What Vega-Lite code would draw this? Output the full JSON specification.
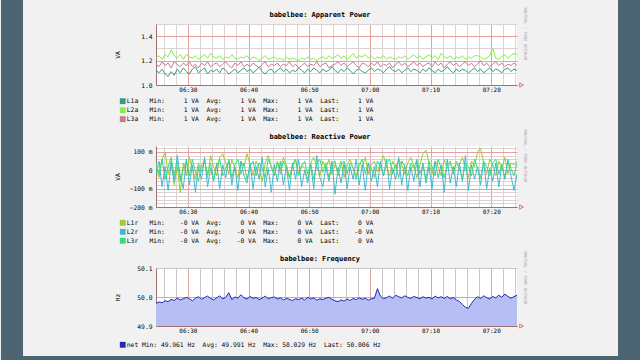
{
"$schema": "https://vega.github.io/schema/vega-lite/v6.json",
"background": "#f1f1f1",
"padding": 0,
"data": {"format": {"parse": {"t": "date:'%H:%M:%S'"}}, "values": [
{"t":"06:24:45","L1a":1.12,"L2a":1.22,"L3a":1.17,"L1r":0.03,"L2r":-0.02,"L3r":0.04,"net":49.978},
{"t":"06:25:15","L1a":1.10,"L2a":1.24,"L3a":1.15,"L1r":-0.04,"L2r":0.05,"L3r":-0.02,"net":49.983},
{"t":"06:25:45","L1a":1.13,"L2a":1.21,"L3a":1.19,"L1r":0.06,"L2r":-0.09,"L3r":0.06,"net":49.980},
{"t":"06:26:15","L1a":1.09,"L2a":1.25,"L3a":1.16,"L1r":0.10,"L2r":0.02,"L3r":-0.05,"net":49.987},
{"t":"06:26:45","L1a":1.07,"L2a":1.23,"L3a":1.18,"L1r":-0.02,"L2r":-0.11,"L3r":0.02,"net":49.984},
{"t":"06:27:15","L1a":1.11,"L2a":1.29,"L3a":1.14,"L1r":0.05,"L2r":0.04,"L3r":0.07,"net":49.992},
{"t":"06:27:45","L1a":1.08,"L2a":1.24,"L3a":1.19,"L1r":-0.08,"L2r":-0.06,"L3r":-0.03,"net":49.988},
{"t":"06:28:15","L1a":1.13,"L2a":1.22,"L3a":1.17,"L1r":0.02,"L2r":0.08,"L3r":0.05,"net":49.996},
{"t":"06:28:45","L1a":1.10,"L2a":1.25,"L3a":1.15,"L1r":-0.12,"L2r":-0.03,"L3r":-0.06,"net":49.990},
{"t":"06:29:15","L1a":1.14,"L2a":1.21,"L3a":1.18,"L1r":0.04,"L2r":-0.10,"L3r":0.01,"net":49.994},
{"t":"06:29:45","L1a":1.11,"L2a":1.25,"L3a":1.16,"L1r":-0.03,"L2r":0.06,"L3r":0.05,"net":49.999},
{"t":"06:30:15","L1a":1.09,"L2a":1.23,"L3a":1.19,"L1r":0.07,"L2r":-0.08,"L3r":-0.03,"net":49.994},
{"t":"06:30:45","L1a":1.13,"L2a":1.22,"L3a":1.15,"L1r":0.01,"L2r":0.03,"L3r":0.06,"net":49.987},
{"t":"06:31:15","L1a":1.15,"L2a":1.24,"L3a":1.17,"L1r":-0.05,"L2r":-0.12,"L3r":-0.01,"net":49.996},
{"t":"06:31:45","L1a":1.10,"L2a":1.21,"L3a":1.14,"L1r":0.04,"L2r":0.02,"L3r":-0.06,"net":50.001},
{"t":"06:32:15","L1a":1.12,"L2a":1.23,"L3a":1.18,"L1r":-0.01,"L2r":-0.05,"L3r":0.03,"net":49.992},
{"t":"06:32:45","L1a":1.14,"L2a":1.25,"L3a":1.16,"L1r":0.06,"L2r":0.07,"L3r":0.05,"net":49.998},
{"t":"06:33:15","L1a":1.09,"L2a":1.22,"L3a":1.19,"L1r":-0.04,"L2r":-0.09,"L3r":-0.02,"net":50.003},
{"t":"06:33:45","L1a":1.12,"L2a":1.26,"L3a":1.15,"L1r":0.08,"L2r":0.01,"L3r":0.04,"net":49.995},
{"t":"06:34:15","L1a":1.11,"L2a":1.23,"L3a":1.17,"L1r":0.02,"L2r":-0.06,"L3r":-0.05,"net":49.990},
{"t":"06:34:45","L1a":1.13,"L2a":1.22,"L3a":1.18,"L1r":-0.03,"L2r":0.04,"L3r":0.02,"net":49.997},
{"t":"06:35:15","L1a":1.10,"L2a":1.24,"L3a":1.15,"L1r":0.07,"L2r":-0.10,"L3r":0.06,"net":50.004},
{"t":"06:35:45","L1a":1.14,"L2a":1.21,"L3a":1.17,"L1r":0.09,"L2r":0.03,"L3r":-0.03,"net":49.993},
{"t":"06:36:15","L1a":1.12,"L2a":1.23,"L3a":1.19,"L1r":0.04,"L2r":-0.04,"L3r":0.01,"net":49.999},
{"t":"06:36:45","L1a":1.09,"L2a":1.22,"L3a":1.16,"L1r":-0.02,"L2r":0.06,"L3r":0.05,"net":50.015},
{"t":"06:37:15","L1a":1.11,"L2a":1.25,"L3a":1.14,"L1r":0.06,"L2r":-0.08,"L3r":-0.04,"net":49.991},
{"t":"06:37:45","L1a":1.13,"L2a":1.22,"L3a":1.18,"L1r":0.01,"L2r":0.02,"L3r":0.03,"net":50.000},
{"t":"06:38:15","L1a":1.10,"L2a":1.21,"L3a":1.16,"L1r":-0.04,"L2r":-0.11,"L3r":0.06,"net":49.996},
{"t":"06:38:45","L1a":1.12,"L2a":1.23,"L3a":1.19,"L1r":0.05,"L2r":0.05,"L3r":-0.02,"net":50.008},
{"t":"06:39:15","L1a":1.14,"L2a":1.22,"L3a":1.15,"L1r":0.02,"L2r":-0.03,"L3r":0.04,"net":49.997},
{"t":"06:39:45","L1a":1.11,"L2a":1.24,"L3a":1.17,"L1r":0.09,"L2r":-0.07,"L3r":-0.05,"net":49.993},
{"t":"06:40:15","L1a":1.13,"L2a":1.21,"L3a":1.15,"L1r":0.03,"L2r":0.04,"L3r":0.02,"net":50.002},
{"t":"06:40:45","L1a":1.10,"L2a":1.23,"L3a":1.18,"L1r":-0.03,"L2r":-0.10,"L3r":0.05,"net":49.995},
{"t":"06:41:15","L1a":1.12,"L2a":1.22,"L3a":1.16,"L1r":0.05,"L2r":0.02,"L3r":-0.03,"net":49.999},
{"t":"06:41:45","L1a":1.15,"L2a":1.20,"L3a":1.14,"L1r":0.01,"L2r":-0.05,"L3r":0.04,"net":49.991},
{"t":"06:42:15","L1a":1.11,"L2a":1.22,"L3a":1.17,"L1r":-0.06,"L2r":0.07,"L3r":0.01,"net":49.996},
{"t":"06:42:45","L1a":1.09,"L2a":1.24,"L3a":1.19,"L1r":0.04,"L2r":-0.09,"L3r":-0.04,"net":50.003},
{"t":"06:43:15","L1a":1.12,"L2a":1.21,"L3a":1.15,"L1r":0.08,"L2r":0.01,"L3r":0.06,"net":49.994},
{"t":"06:43:45","L1a":1.13,"L2a":1.22,"L3a":1.17,"L1r":0.02,"L2r":-0.12,"L3r":0.02,"net":49.998},
{"t":"06:44:15","L1a":1.10,"L2a":1.23,"L3a":1.16,"L1r":-0.03,"L2r":0.03,"L3r":-0.03,"net":50.000},
{"t":"06:44:45","L1a":1.12,"L2a":1.21,"L3a":1.18,"L1r":0.05,"L2r":-0.06,"L3r":0.04,"net":49.993},
{"t":"06:45:15","L1a":1.14,"L2a":1.22,"L3a":1.15,"L1r":0.00,"L2r":0.05,"L3r":-0.02,"net":49.997},
{"t":"06:45:45","L1a":1.11,"L2a":1.20,"L3a":1.17,"L1r":0.07,"L2r":-0.08,"L3r":0.05,"net":49.990},
{"t":"06:46:15","L1a":1.13,"L2a":1.23,"L3a":1.16,"L1r":0.03,"L2r":0.02,"L3r":0.01,"net":49.995},
{"t":"06:46:45","L1a":1.10,"L2a":1.21,"L3a":1.19,"L1r":-0.04,"L2r":-0.11,"L3r":-0.04,"net":49.992},
{"t":"06:47:15","L1a":1.12,"L2a":1.22,"L3a":1.15,"L1r":0.02,"L2r":0.04,"L3r":0.03,"net":49.988},
{"t":"06:47:45","L1a":1.11,"L2a":1.21,"L3a":1.17,"L1r":0.06,"L2r":-0.05,"L3r":0.06,"net":49.994},
{"t":"06:48:15","L1a":1.14,"L2a":1.20,"L3a":1.14,"L1r":-0.02,"L2r":0.06,"L3r":-0.03,"net":49.991},
{"t":"06:48:45","L1a":1.12,"L2a":1.22,"L3a":1.16,"L1r":0.03,"L2r":-0.09,"L3r":0.02,"net":49.996},
{"t":"06:49:15","L1a":1.10,"L2a":1.21,"L3a":1.18,"L1r":0.01,"L2r":0.00,"L3r":0.05,"net":49.990},
{"t":"06:49:45","L1a":1.13,"L2a":1.23,"L3a":1.15,"L1r":-0.05,"L2r":-0.07,"L3r":-0.02,"net":49.999},
{"t":"06:50:15","L1a":1.11,"L2a":1.21,"L3a":1.17,"L1r":0.04,"L2r":0.03,"L3r":0.04,"net":49.993},
{"t":"06:50:45","L1a":1.14,"L2a":1.22,"L3a":1.16,"L1r":0.07,"L2r":-0.10,"L3r":-0.05,"net":49.997},
{"t":"06:51:15","L1a":1.12,"L2a":1.20,"L3a":1.19,"L1r":0.02,"L2r":0.08,"L3r":0.03,"net":49.989},
{"t":"06:51:45","L1a":1.10,"L2a":1.22,"L3a":1.15,"L1r":-0.03,"L2r":-0.04,"L3r":0.06,"net":49.994},
{"t":"06:52:15","L1a":1.13,"L2a":1.23,"L3a":1.17,"L1r":0.05,"L2r":-0.09,"L3r":-0.01,"net":49.991},
{"t":"06:52:45","L1a":1.11,"L2a":1.21,"L3a":1.18,"L1r":0.01,"L2r":0.02,"L3r":0.04,"net":49.996},
{"t":"06:53:15","L1a":1.12,"L2a":1.24,"L3a":1.14,"L1r":0.06,"L2r":-0.06,"L3r":-0.04,"net":49.999},
{"t":"06:53:45","L1a":1.15,"L2a":1.22,"L3a":1.16,"L1r":-0.02,"L2r":0.05,"L3r":0.02,"net":49.992},
{"t":"06:54:15","L1a":1.12,"L2a":1.23,"L3a":1.17,"L1r":0.03,"L2r":-0.13,"L3r":0.05,"net":49.987},
{"t":"06:54:45","L1a":1.10,"L2a":1.25,"L3a":1.19,"L1r":0.00,"L2r":0.01,"L3r":-0.03,"net":49.984},
{"t":"06:55:15","L1a":1.13,"L2a":1.22,"L3a":1.16,"L1r":0.05,"L2r":-0.07,"L3r":0.03,"net":49.990},
{"t":"06:55:45","L1a":1.11,"L2a":1.24,"L3a":1.18,"L1r":-0.04,"L2r":0.04,"L3r":0.05,"net":49.986},
{"t":"06:56:15","L1a":1.14,"L2a":1.21,"L3a":1.15,"L1r":0.03,"L2r":-0.10,"L3r":-0.02,"net":49.993},
{"t":"06:56:45","L1a":1.12,"L2a":1.23,"L3a":1.17,"L1r":0.06,"L2r":0.02,"L3r":0.04,"net":49.988},
{"t":"06:57:15","L1a":1.09,"L2a":1.26,"L3a":1.19,"L1r":0.01,"L2r":-0.05,"L3r":0.01,"net":49.995},
{"t":"06:57:45","L1a":1.12,"L2a":1.22,"L3a":1.16,"L1r":-0.03,"L2r":0.06,"L3r":-0.05,"net":49.991},
{"t":"06:58:15","L1a":1.13,"L2a":1.24,"L3a":1.14,"L1r":0.04,"L2r":-0.08,"L3r":0.03,"net":49.997},
{"t":"06:58:45","L1a":1.11,"L2a":1.23,"L3a":1.18,"L1r":0.02,"L2r":0.03,"L3r":0.06,"net":49.992},
{"t":"06:59:15","L1a":1.10,"L2a":1.25,"L3a":1.17,"L1r":0.07,"L2r":-0.11,"L3r":-0.02,"net":49.996},
{"t":"06:59:45","L1a":1.12,"L2a":1.22,"L3a":1.15,"L1r":-0.02,"L2r":0.04,"L3r":0.04,"net":49.989},
{"t":"07:00:15","L1a":1.14,"L2a":1.24,"L3a":1.18,"L1r":0.03,"L2r":-0.06,"L3r":0.01,"net":49.994},
{"t":"07:00:45","L1a":1.11,"L2a":1.21,"L3a":1.16,"L1r":0.05,"L2r":0.02,"L3r":-0.04,"net":49.996},
{"t":"07:01:15","L1a":1.13,"L2a":1.23,"L3a":1.19,"L1r":-0.01,"L2r":-0.09,"L3r":0.05,"net":50.029},
{"t":"07:01:45","L1a":1.12,"L2a":1.22,"L3a":1.15,"L1r":0.04,"L2r":0.05,"L3r":0.02,"net":50.002},
{"t":"07:02:15","L1a":1.10,"L2a":1.24,"L3a":1.17,"L1r":0.08,"L2r":-0.03,"L3r":-0.03,"net":49.994},
{"t":"07:02:45","L1a":1.13,"L2a":1.21,"L3a":1.16,"L1r":0.02,"L2r":0.06,"L3r":0.04,"net":49.998},
{"t":"07:03:15","L1a":1.15,"L2a":1.23,"L3a":1.18,"L1r":-0.03,"L2r":-0.10,"L3r":0.06,"net":50.003},
{"t":"07:03:45","L1a":1.12,"L2a":1.22,"L3a":1.14,"L1r":0.05,"L2r":0.01,"L3r":-0.02,"net":49.996},
{"t":"07:04:15","L1a":1.11,"L2a":1.21,"L3a":1.17,"L1r":0.01,"L2r":-0.05,"L3r":0.03,"net":50.006},
{"t":"07:04:45","L1a":1.13,"L2a":1.23,"L3a":1.19,"L1r":0.06,"L2r":0.07,"L3r":-0.04,"net":50.001},
{"t":"07:05:15","L1a":1.10,"L2a":1.22,"L3a":1.16,"L1r":0.03,"L2r":-0.08,"L3r":0.05,"net":49.997},
{"t":"07:05:45","L1a":1.12,"L2a":1.24,"L3a":1.18,"L1r":-0.02,"L2r":0.03,"L3r":0.02,"net":50.004},
{"t":"07:06:15","L1a":1.14,"L2a":1.21,"L3a":1.15,"L1r":0.04,"L2r":-0.11,"L3r":-0.03,"net":49.999},
{"t":"07:06:45","L1a":1.11,"L2a":1.23,"L3a":1.17,"L1r":0.07,"L2r":0.02,"L3r":0.04,"net":49.995},
{"t":"07:07:15","L1a":1.13,"L2a":1.25,"L3a":1.19,"L1r":0.02,"L2r":-0.06,"L3r":0.01,"net":50.002},
{"t":"07:07:45","L1a":1.12,"L2a":1.22,"L3a":1.16,"L1r":-0.04,"L2r":0.05,"L3r":0.06,"net":49.998},
{"t":"07:08:15","L1a":1.10,"L2a":1.24,"L3a":1.18,"L1r":0.03,"L2r":-0.09,"L3r":-0.02,"net":49.994},
{"t":"07:08:45","L1a":1.13,"L2a":1.21,"L3a":1.15,"L1r":0.09,"L2r":0.04,"L3r":0.03,"net":50.001},
{"t":"07:09:15","L1a":1.11,"L2a":1.23,"L3a":1.17,"L1r":0.11,"L2r":-0.07,"L3r":-0.05,"net":49.996},
{"t":"07:09:45","L1a":1.14,"L2a":1.25,"L3a":1.18,"L1r":0.04,"L2r":0.02,"L3r":0.05,"net":49.999},
{"t":"07:10:15","L1a":1.12,"L2a":1.22,"L3a":1.15,"L1r":-0.02,"L2r":-0.10,"L3r":0.02,"net":49.993},
{"t":"07:10:45","L1a":1.10,"L2a":1.24,"L3a":1.19,"L1r":0.05,"L2r":0.05,"L3r":-0.03,"net":50.003},
{"t":"07:11:15","L1a":1.13,"L2a":1.21,"L3a":1.16,"L1r":0.02,"L2r":-0.04,"L3r":0.06,"net":49.997},
{"t":"07:11:45","L1a":1.11,"L2a":1.26,"L3a":1.18,"L1r":-0.03,"L2r":0.03,"L3r":0.01,"net":50.001},
{"t":"07:12:15","L1a":1.12,"L2a":1.23,"L3a":1.14,"L1r":0.06,"L2r":-0.12,"L3r":-0.04,"net":49.995},
{"t":"07:12:45","L1a":1.15,"L2a":1.22,"L3a":1.17,"L1r":0.01,"L2r":0.06,"L3r":0.03,"net":50.002},
{"t":"07:13:15","L1a":1.12,"L2a":1.24,"L3a":1.19,"L1r":0.04,"L2r":-0.07,"L3r":0.05,"net":49.994},
{"t":"07:13:45","L1a":1.10,"L2a":1.21,"L3a":1.16,"L1r":-0.01,"L2r":0.02,"L3r":-0.02,"net":49.998},
{"t":"07:14:15","L1a":1.13,"L2a":1.23,"L3a":1.18,"L1r":0.05,"L2r":-0.09,"L3r":0.04,"net":49.990},
{"t":"07:14:45","L1a":1.11,"L2a":1.22,"L3a":1.15,"L1r":0.03,"L2r":0.04,"L3r":0.01,"net":49.985},
{"t":"07:15:15","L1a":1.13,"L2a":1.24,"L3a":1.17,"L1r":0.07,"L2r":-0.06,"L3r":-0.05,"net":49.974},
{"t":"07:15:45","L1a":1.12,"L2a":1.21,"L3a":1.19,"L1r":0.01,"L2r":0.08,"L3r":0.04,"net":49.965},
{"t":"07:16:15","L1a":1.10,"L2a":1.23,"L3a":1.16,"L1r":-0.04,"L2r":-0.11,"L3r":0.02,"net":49.961},
{"t":"07:16:45","L1a":1.12,"L2a":1.22,"L3a":1.18,"L1r":0.05,"L2r":0.03,"L3r":-0.03,"net":49.978},
{"t":"07:17:15","L1a":1.14,"L2a":1.24,"L3a":1.15,"L1r":0.02,"L2r":-0.05,"L3r":0.06,"net":49.992},
{"t":"07:17:45","L1a":1.11,"L2a":1.24,"L3a":1.17,"L1r":0.10,"L2r":0.02,"L3r":0.01,"net":50.001},
{"t":"07:18:15","L1a":1.13,"L2a":1.23,"L3a":1.20,"L1r":0.12,"L2r":-0.08,"L3r":-0.04,"net":49.995},
{"t":"07:18:45","L1a":1.10,"L2a":1.21,"L3a":1.16,"L1r":0.04,"L2r":0.05,"L3r":0.05,"net":50.004},
{"t":"07:19:15","L1a":1.12,"L2a":1.22,"L3a":1.18,"L1r":-0.02,"L2r":-0.10,"L3r":0.02,"net":49.998},
{"t":"07:19:45","L1a":1.14,"L2a":1.24,"L3a":1.15,"L1r":0.06,"L2r":0.01,"L3r":-0.03,"net":49.993},
{"t":"07:20:15","L1a":1.11,"L2a":1.30,"L3a":1.17,"L1r":0.03,"L2r":-0.06,"L3r":0.04,"net":50.002},
{"t":"07:20:45","L1a":1.13,"L2a":1.22,"L3a":1.19,"L1r":-0.03,"L2r":0.04,"L3r":0.06,"net":49.997},
{"t":"07:21:15","L1a":1.12,"L2a":1.21,"L3a":1.16,"L1r":0.05,"L2r":-0.09,"L3r":-0.02,"net":50.006},
{"t":"07:21:45","L1a":1.10,"L2a":1.23,"L3a":1.18,"L1r":0.01,"L2r":0.03,"L3r":0.03,"net":49.999},
{"t":"07:22:15","L1a":1.13,"L2a":1.25,"L3a":1.15,"L1r":0.07,"L2r":-0.05,"L3r":-0.04,"net":50.010},
{"t":"07:22:45","L1a":1.14,"L2a":1.22,"L3a":1.17,"L1r":-0.02,"L2r":0.06,"L3r":0.05,"net":50.002},
{"t":"07:23:15","L1a":1.11,"L2a":1.24,"L3a":1.16,"L1r":0.04,"L2r":-0.03,"L3r":0.01,"net":49.996},
{"t":"07:23:45","L1a":1.13,"L2a":1.26,"L3a":1.18,"L1r":0.03,"L2r":-0.11,"L3r":-0.03,"net":50.001},
{"t":"07:24:15","L1a":1.12,"L2a":1.25,"L3a":1.16,"L1r":0.05,"L2r":-0.02,"L3r":0.04,"net":50.006}
]},
"spacing": 61,
"bounds": "flush",
"resolve": {"scale": {"x": "independent", "y": "independent", "color": "independent"}, "legend": {"color": "independent"}},
"vconcat": [
{
 "width": 361, "height": 61,
 "resolve": {"axis": {"x": "independent", "y": "independent"}},
 "layer": [
  {
   "data": {"values": [{}]},
   "mark": {"type": "rect", "color": "#4d6473", "clip": false},
   "encoding": {
    "x": {"datum": {"year":1900,"month":1,"date":1,"hours":5,"minutes":59,"seconds":12}, "type": "temporal", "axis": null,
     "scale": {"domain": [{"year":1900,"month":1,"date":1,"hours":6,"minutes":24,"seconds":45},{"year":1900,"month":1,"date":1,"hours":7,"minutes":24,"seconds":15}], "nice": false}},
    "x2": {"datum": {"year":1900,"month":1,"date":1,"hours":6,"minutes":2,"seconds":50}},
    "y": {"datum": 1.69672, "type": "quantitative", "axis": null, "scale": {"domain": [1.0, 1.5], "nice": false, "zero": false}},
    "y2": {"datum": -1.2541}
   }
  },
  {
   "data": {"values": [{}]},
   "mark": {"type": "rect", "color": "#4d6473", "clip": false},
   "encoding": {
    "x": {"datum": {"year":1900,"month":1,"date":1,"hours":7,"minutes":40,"seconds":54}, "type": "temporal", "axis": null,
     "scale": {"domain": [{"year":1900,"month":1,"date":1,"hours":6,"minutes":24,"seconds":45},{"year":1900,"month":1,"date":1,"hours":7,"minutes":24,"seconds":15}], "nice": false}},
    "x2": {"datum": {"year":1900,"month":1,"date":1,"hours":7,"minutes":44,"seconds":41}},
    "y": {"datum": 1.69672, "type": "quantitative", "axis": null, "scale": {"domain": [1.0, 1.5], "nice": false, "zero": false}},
    "y2": {"datum": -1.2541}
   }
  },
  {
   "data": {"values": [{}]},
   "mark": {"type": "rect", "color": "#4d6473", "clip": false},
   "encoding": {
    "x": {"datum": {"year":1900,"month":1,"date":1,"hours":5,"minutes":59,"seconds":12}, "type": "temporal", "axis": null,
     "scale": {"domain": [{"year":1900,"month":1,"date":1,"hours":6,"minutes":24,"seconds":45},{"year":1900,"month":1,"date":1,"hours":7,"minutes":24,"seconds":15}], "nice": false}},
    "x2": {"datum": {"year":1900,"month":1,"date":1,"hours":7,"minutes":44,"seconds":41}},
    "y": {"datum": -1.2213, "type": "quantitative", "axis": null, "scale": {"domain": [1.0, 1.5], "nice": false, "zero": false}},
    "y2": {"datum": -1.2541}
   }
  },
  {
   "transform": [{"fold": ["L1a", "L2a", "L3a"], "as": ["series", "value"]}],
   "mark": {"type": "line", "strokeWidth": 1, "clip": true},
   "encoding": {
    "x": {"field": "t", "type": "temporal",
     "scale": {"domain": [{"year":1900,"month":1,"date":1,"hours":6,"minutes":24,"seconds":45},{"year":1900,"month":1,"date":1,"hours":7,"minutes":24,"seconds":15}], "nice": false},
     "axis": {"orient": "bottom", "title": null,
      "values": [{"year":1900,"month":1,"date":1,"hours":6,"minutes":26},{"year":1900,"month":1,"date":1,"hours":6,"minutes":28},{"year":1900,"month":1,"date":1,"hours":6,"minutes":30},{"year":1900,"month":1,"date":1,"hours":6,"minutes":32},{"year":1900,"month":1,"date":1,"hours":6,"minutes":34},{"year":1900,"month":1,"date":1,"hours":6,"minutes":36},{"year":1900,"month":1,"date":1,"hours":6,"minutes":38},{"year":1900,"month":1,"date":1,"hours":6,"minutes":40},{"year":1900,"month":1,"date":1,"hours":6,"minutes":42},{"year":1900,"month":1,"date":1,"hours":6,"minutes":44},{"year":1900,"month":1,"date":1,"hours":6,"minutes":46},{"year":1900,"month":1,"date":1,"hours":6,"minutes":48},{"year":1900,"month":1,"date":1,"hours":6,"minutes":50},{"year":1900,"month":1,"date":1,"hours":6,"minutes":52},{"year":1900,"month":1,"date":1,"hours":6,"minutes":54},{"year":1900,"month":1,"date":1,"hours":6,"minutes":56},{"year":1900,"month":1,"date":1,"hours":6,"minutes":58},{"year":1900,"month":1,"date":1,"hours":7,"minutes":0},{"year":1900,"month":1,"date":1,"hours":7,"minutes":2},{"year":1900,"month":1,"date":1,"hours":7,"minutes":4},{"year":1900,"month":1,"date":1,"hours":7,"minutes":6},{"year":1900,"month":1,"date":1,"hours":7,"minutes":8},{"year":1900,"month":1,"date":1,"hours":7,"minutes":10},{"year":1900,"month":1,"date":1,"hours":7,"minutes":12},{"year":1900,"month":1,"date":1,"hours":7,"minutes":14},{"year":1900,"month":1,"date":1,"hours":7,"minutes":16},{"year":1900,"month":1,"date":1,"hours":7,"minutes":18},{"year":1900,"month":1,"date":1,"hours":7,"minutes":20},{"year":1900,"month":1,"date":1,"hours":7,"minutes":22},{"year":1900,"month":1,"date":1,"hours":7,"minutes":24}],
      "labelExpr": "minutes(datum.value) % 10 == 0 ? timeFormat(datum.value, '%H:%M') : ''",
      "labelPadding": 1, "grid": true,
      "gridColor": {"condition": {"test": "minutes(datum.value) % 10 == 0", "value": "#e6a0a0"}, "value": "#ddd2d2"}}},
    "y": {"field": "value", "type": "quantitative",
     "scale": {"domain": [1.0, 1.5], "nice": false, "zero": false},
     "axis": {"orient": "left", "values": [1.0, 1.1, 1.2, 1.3, 1.4, 1.5],
      "labelExpr": "round(datum.value*10) % 2 == 0 ? format(datum.value, '.1f') : ''",
      "labelFontSize": 6.3, "labelPadding": 4, "grid": true,
      "gridColor": {"condition": {"test": "round(datum.value*10) % 2 == 0", "value": "#e6a0a0"}, "value": "#ddd2d2"},
      "title": "VA", "titleX": -38.3, "titleY": 30.5, "titleAngle": -90, "titleAlign": "center", "titleBaseline": "middle"}},
    "color": {"field": "series", "type": "nominal",
     "scale": {"domain": ["L1a", "L2a", "L3a"], "range": ["#3a9a88", "#88ee44", "#c87b8a"]},
     "legend": {"title": null, "legendX": -36.5, "legendY": 74,
      "labelExpr": "datum.label + '\u00a0\u00a0\u00a0Min:\u00a0\u00a0\u00a0\u00a0\u00a01\u00a0VA\u00a0\u00a0Avg:\u00a0\u00a0\u00a0\u00a0\u00a01\u00a0VA\u00a0\u00a0Max:\u00a0\u00a0\u00a0\u00a0\u00a01\u00a0VA\u00a0\u00a0Last:\u00a0\u00a0\u00a0\u00a0\u00a01\u00a0VA'"}}
   }
  },
  {
   "data": {"values": [{}]},
   "mark": {"type": "point", "shape": "triangle-right", "filled": false, "color": "#e04040", "size": 18, "strokeWidth": 1, "clip": false},
   "encoding": {
    "x": {"datum": {"year":1900,"month":1,"date":1,"hours":7,"minutes":25,"seconds":0}, "type": "temporal",
     "scale": {"domain": [{"year":1900,"month":1,"date":1,"hours":6,"minutes":24,"seconds":45},{"year":1900,"month":1,"date":1,"hours":7,"minutes":24,"seconds":15}], "nice": false},
     "axis": {"orient": "top", "labels": false, "domain": false, "grid": false, "ticks": false,
      "title": "babelbee: Apparent Power", "titleFontSize": 7, "titleFontWeight": "bold",
      "titleX": 163.5, "titleY": -10, "titleAlign": "center", "titleBaseline": "middle", "titleAngle": 0}},
    "y": {"datum": 1.0, "type": "quantitative",
     "scale": {"domain": [1.0, 1.5], "nice": false, "zero": false},
     "axis": {"orient": "right", "labels": false, "domain": false, "grid": false, "ticks": false,
      "title": "RRDTOOL / TOBI OETIKER", "titleFontSize": 4, "titleColor": "#a8a8a8",
      "titleX": 7, "titleY": 9.5, "titleAngle": 90, "titleAlign": "center", "titleBaseline": "middle"}}
   }
  }
 ]
},
{
 "width": 361, "height": 61,
 "resolve": {"axis": {"x": "independent", "y": "independent"}},
 "layer": [
  {
   "transform": [{"fold": ["L1r", "L2r", "L3r"], "as": ["series", "value"]}],
   "mark": {"type": "line", "strokeWidth": 1, "clip": true},
   "encoding": {
    "x": {"field": "t", "type": "temporal",
     "scale": {"domain": [{"year":1900,"month":1,"date":1,"hours":6,"minutes":24,"seconds":45},{"year":1900,"month":1,"date":1,"hours":7,"minutes":24,"seconds":15}], "nice": false},
     "axis": {"orient": "bottom", "title": null,
      "values": [{"year":1900,"month":1,"date":1,"hours":6,"minutes":26},{"year":1900,"month":1,"date":1,"hours":6,"minutes":28},{"year":1900,"month":1,"date":1,"hours":6,"minutes":30},{"year":1900,"month":1,"date":1,"hours":6,"minutes":32},{"year":1900,"month":1,"date":1,"hours":6,"minutes":34},{"year":1900,"month":1,"date":1,"hours":6,"minutes":36},{"year":1900,"month":1,"date":1,"hours":6,"minutes":38},{"year":1900,"month":1,"date":1,"hours":6,"minutes":40},{"year":1900,"month":1,"date":1,"hours":6,"minutes":42},{"year":1900,"month":1,"date":1,"hours":6,"minutes":44},{"year":1900,"month":1,"date":1,"hours":6,"minutes":46},{"year":1900,"month":1,"date":1,"hours":6,"minutes":48},{"year":1900,"month":1,"date":1,"hours":6,"minutes":50},{"year":1900,"month":1,"date":1,"hours":6,"minutes":52},{"year":1900,"month":1,"date":1,"hours":6,"minutes":54},{"year":1900,"month":1,"date":1,"hours":6,"minutes":56},{"year":1900,"month":1,"date":1,"hours":6,"minutes":58},{"year":1900,"month":1,"date":1,"hours":7,"minutes":0},{"year":1900,"month":1,"date":1,"hours":7,"minutes":2},{"year":1900,"month":1,"date":1,"hours":7,"minutes":4},{"year":1900,"month":1,"date":1,"hours":7,"minutes":6},{"year":1900,"month":1,"date":1,"hours":7,"minutes":8},{"year":1900,"month":1,"date":1,"hours":7,"minutes":10},{"year":1900,"month":1,"date":1,"hours":7,"minutes":12},{"year":1900,"month":1,"date":1,"hours":7,"minutes":14},{"year":1900,"month":1,"date":1,"hours":7,"minutes":16},{"year":1900,"month":1,"date":1,"hours":7,"minutes":18},{"year":1900,"month":1,"date":1,"hours":7,"minutes":20},{"year":1900,"month":1,"date":1,"hours":7,"minutes":22},{"year":1900,"month":1,"date":1,"hours":7,"minutes":24}],
      "labelExpr": "minutes(datum.value) % 10 == 0 ? timeFormat(datum.value, '%H:%M') : ''",
      "labelPadding": 1, "grid": true,
      "gridColor": {"condition": {"test": "minutes(datum.value) % 10 == 0", "value": "#e6a0a0"}, "value": "#ddd2d2"}}},
    "y": {"field": "value", "type": "quantitative",
     "scale": {"domain": [-0.2, 0.132], "nice": false, "zero": false},
     "axis": {"orient": "left", "values": [-0.2, -0.18, -0.16, -0.14, -0.12, -0.1, -0.08, -0.06, -0.04, -0.02, 0, 0.02, 0.04, 0.06, 0.08, 0.1, 0.12],
      "labelExpr": "round(datum.value*100) % 10 != 0 ? '' : (round(datum.value*100) == 0 ? '0' : format(round(datum.value*1000), 'd') + ' m')",
      "labelFontSize": 6.3, "labelPadding": 4, "grid": true,
      "gridColor": {"condition": {"test": "round(datum.value*100) % 10 == 0", "value": "#e6a0a0"}, "value": "#ddd2d2"},
      "title": "VA", "titleX": -38.3, "titleY": 30.5, "titleAngle": -90, "titleAlign": "center", "titleBaseline": "middle"}},
    "color": {"field": "series", "type": "nominal",
     "scale": {"domain": ["L1r", "L2r", "L3r"], "range": ["#9ccc30", "#44b8d0", "#34dc88"]},
     "legend": {"title": null, "legendX": -36.5, "legendY": 73.5,
      "labelExpr": "datum.label + '\u00a0\u00a0\u00a0Min:\u00a0\u00a0\u00a0\u00a0-0\u00a0VA\u00a0\u00a0Avg:\u00a0\u00a0\u00a0\u00a0' + (datum.label == 'L1r' ? '\u00a00' : '-0') + '\u00a0VA\u00a0\u00a0Max:\u00a0\u00a0\u00a0\u00a0\u00a00\u00a0VA\u00a0\u00a0Last:\u00a0\u00a0\u00a0\u00a0' + (datum.label == 'L2r' ? '-0' : '\u00a00') + '\u00a0VA'"}}
   }
  },
  {
   "data": {"values": [{}]},
   "mark": {"type": "point", "shape": "triangle-right", "filled": false, "color": "#e04040", "size": 18, "strokeWidth": 1, "clip": false},
   "encoding": {
    "x": {"datum": {"year":1900,"month":1,"date":1,"hours":7,"minutes":25,"seconds":0}, "type": "temporal",
     "scale": {"domain": [{"year":1900,"month":1,"date":1,"hours":6,"minutes":24,"seconds":45},{"year":1900,"month":1,"date":1,"hours":7,"minutes":24,"seconds":15}], "nice": false},
     "axis": {"orient": "top", "labels": false, "domain": false, "grid": false, "ticks": false,
      "title": "babelbee: Reactive Power", "titleFontSize": 7, "titleFontWeight": "bold",
      "titleX": 163.5, "titleY": -10, "titleAlign": "center", "titleBaseline": "middle", "titleAngle": 0}},
    "y": {"datum": -0.2, "type": "quantitative",
     "scale": {"domain": [-0.2, 0.132], "nice": false, "zero": false},
     "axis": {"orient": "right", "labels": false, "domain": false, "grid": false, "ticks": false,
      "title": "RRDTOOL / TOBI OETIKER", "titleFontSize": 4, "titleColor": "#a8a8a8",
      "titleX": 7, "titleY": 9.5, "titleAngle": 90, "titleAlign": "center", "titleBaseline": "middle"}}
   }
  }
 ]
},
{
 "width": 361, "height": 58,
 "resolve": {"axis": {"x": "independent", "y": "independent"}},
 "layer": [
  {
   "mark": {"type": "area", "color": "#b6bef4", "clip": true},
   "encoding": {
    "x": {"field": "t", "type": "temporal",
     "scale": {"domain": [{"year":1900,"month":1,"date":1,"hours":6,"minutes":24,"seconds":45},{"year":1900,"month":1,"date":1,"hours":7,"minutes":24,"seconds":15}], "nice": false},
     "axis": {"orient": "bottom", "title": null,
      "values": [{"year":1900,"month":1,"date":1,"hours":6,"minutes":26},{"year":1900,"month":1,"date":1,"hours":6,"minutes":28},{"year":1900,"month":1,"date":1,"hours":6,"minutes":30},{"year":1900,"month":1,"date":1,"hours":6,"minutes":32},{"year":1900,"month":1,"date":1,"hours":6,"minutes":34},{"year":1900,"month":1,"date":1,"hours":6,"minutes":36},{"year":1900,"month":1,"date":1,"hours":6,"minutes":38},{"year":1900,"month":1,"date":1,"hours":6,"minutes":40},{"year":1900,"month":1,"date":1,"hours":6,"minutes":42},{"year":1900,"month":1,"date":1,"hours":6,"minutes":44},{"year":1900,"month":1,"date":1,"hours":6,"minutes":46},{"year":1900,"month":1,"date":1,"hours":6,"minutes":48},{"year":1900,"month":1,"date":1,"hours":6,"minutes":50},{"year":1900,"month":1,"date":1,"hours":6,"minutes":52},{"year":1900,"month":1,"date":1,"hours":6,"minutes":54},{"year":1900,"month":1,"date":1,"hours":6,"minutes":56},{"year":1900,"month":1,"date":1,"hours":6,"minutes":58},{"year":1900,"month":1,"date":1,"hours":7,"minutes":0},{"year":1900,"month":1,"date":1,"hours":7,"minutes":2},{"year":1900,"month":1,"date":1,"hours":7,"minutes":4},{"year":1900,"month":1,"date":1,"hours":7,"minutes":6},{"year":1900,"month":1,"date":1,"hours":7,"minutes":8},{"year":1900,"month":1,"date":1,"hours":7,"minutes":10},{"year":1900,"month":1,"date":1,"hours":7,"minutes":12},{"year":1900,"month":1,"date":1,"hours":7,"minutes":14},{"year":1900,"month":1,"date":1,"hours":7,"minutes":16},{"year":1900,"month":1,"date":1,"hours":7,"minutes":18},{"year":1900,"month":1,"date":1,"hours":7,"minutes":20},{"year":1900,"month":1,"date":1,"hours":7,"minutes":22},{"year":1900,"month":1,"date":1,"hours":7,"minutes":24}],
      "labelExpr": "minutes(datum.value) % 10 == 0 ? timeFormat(datum.value, '%H:%M') : ''",
      "labelPadding": 1, "grid": true,
      "gridColor": {"condition": {"test": "minutes(datum.value) % 10 == 0", "value": "#e0a0a0"}, "value": "#c8c8c8"}}},
    "y": {"field": "net", "type": "quantitative",
     "scale": {"domain": [49.9, 50.1], "nice": false, "zero": false},
     "axis": {"orient": "left", "values": [49.9, 50.0, 50.1], "format": ".1f",
      "labelFontSize": 6.3, "labelPadding": 4, "grid": true,
      "gridColor": {"condition": {"test": "round(datum.value*10) == 500", "value": "#e0a0a0"}, "value": "#c8c8c8"},
      "title": "Hz", "titleX": -38.3, "titleY": 29, "titleAngle": -90, "titleAlign": "center", "titleBaseline": "middle"}},
    "y2": {"datum": 49.9}
   }
  },
  {
   "mark": {"type": "line", "strokeWidth": 1, "clip": true},
   "encoding": {
    "x": {"field": "t", "type": "temporal", "axis": null},
    "y": {"field": "net", "type": "quantitative", "axis": null},
    "color": {"datum": "net", "type": "nominal",
     "scale": {"range": ["#2828b4"]},
     "legend": {"title": null, "legendX": -36.5, "legendY": 73.5,
      "labelExpr": "'net\u00a0Min:\u00a049.961\u00a0Hz\u00a0\u00a0Avg:\u00a049.991\u00a0Hz\u00a0\u00a0Max:\u00a050.029\u00a0Hz\u00a0\u00a0Last:\u00a050.006\u00a0Hz'"}}
   }
  },
  {
   "data": {"values": [{}]},
   "mark": {"type": "point", "shape": "triangle-right", "filled": false, "color": "#e04040", "size": 18, "strokeWidth": 1, "clip": false},
   "encoding": {
    "x": {"datum": {"year":1900,"month":1,"date":1,"hours":7,"minutes":25,"seconds":0}, "type": "temporal",
     "scale": {"domain": [{"year":1900,"month":1,"date":1,"hours":6,"minutes":24,"seconds":45},{"year":1900,"month":1,"date":1,"hours":7,"minutes":24,"seconds":15}], "nice": false},
     "axis": {"orient": "top", "labels": false, "domain": false, "grid": false, "ticks": false,
      "title": "babelbee: Frequency", "titleFontSize": 7, "titleFontWeight": "bold",
      "titleX": 163.5, "titleY": -10, "titleAlign": "center", "titleBaseline": "middle", "titleAngle": 0}},
    "y": {"datum": 49.9, "type": "quantitative",
     "scale": {"domain": [49.9, 50.1], "nice": false, "zero": false},
     "axis": {"orient": "right", "labels": false, "domain": false, "grid": false, "ticks": false,
      "title": "RRDTOOL / TOBI OETIKER", "titleFontSize": 4, "titleColor": "#a8a8a8",
      "titleX": 7, "titleY": 9.5, "titleAngle": 90, "titleAlign": "center", "titleBaseline": "middle"}}
   }
  }
 ]
}
],
"config": {
 "view": {"fill": "#ffffff", "stroke": null},
 "font": "DejaVu Sans Mono",
 "axis": {"labelFont": "DejaVu Sans Mono", "titleFont": "DejaVu Sans Mono", "labelColor": "#000000", "titleColor": "#000000",
  "ticks": false, "labelOverlap": false, "labelFlush": false, "titleFontWeight": "normal",
  "domainColor": "#a07070", "domainWidth": 1, "gridWidth": 1, "labelFontSize": 6, "titleFontSize": 6.3},
 "legend": {"orient": "none", "direction": "vertical", "symbolType": "square", "symbolSize": 9, "symbolStrokeWidth": 3,
  "labelFont": "DejaVu Sans Mono", "labelFontSize": 6.3, "labelColor": "#000000", "labelLimit": 0, "rowPadding": 2, "labelOffset": 1, "padding": 0, "clipHeight": 6.3}
}
}
